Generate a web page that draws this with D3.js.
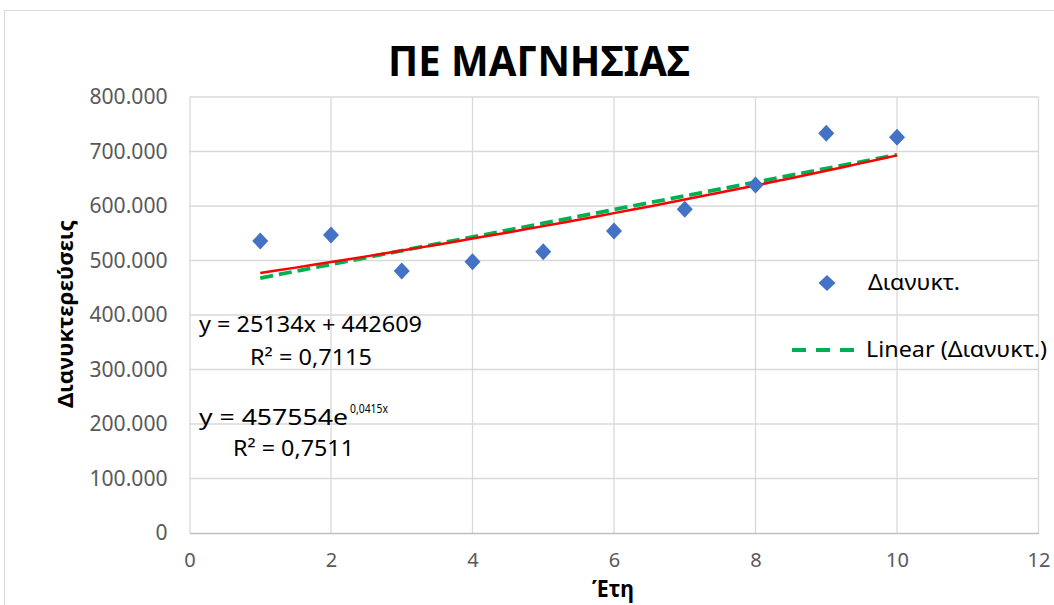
<!DOCTYPE html>
<html><head><meta charset="utf-8">
<script src="https://cdn.jsdelivr.net/npm/d3@7"></script>
<style>body{margin:0;background:#fff;} text{font-family:"Noto Sans","Open Sans",sans-serif;}</style>
</head><body>
<svg id="c" width="1054" height="605"></svg>
<script>
const years = [1,2,3,4,5,6,7,8,9,10];
const values = [535800,546800,480700,497800,516000,554000,593900,638500,733400,726000];
const xTicks = [0,2,4,6,8,10,12];
const yTicks = [0,100000,200000,300000,400000,500000,600000,700000,800000];
const linearCoef = [25134, 442609];
const expCoef = [457554, 0.0415];
const eqTexts = ["y = 25134x + 442609","R² = 0,7115","y = 457554e","0,0415x","R² = 0,7511"];

const svg = d3.select("#c");
svg.append("rect").attr("x",4.5).attr("y",10.5).attr("width",1060).attr("height",600)
  .attr("fill","#fff").attr("stroke","#d9d9d9");

const x = d3.scaleLinear().domain([0,12]).range([189.5,1038.5]);
const y = d3.scaleLinear().domain([0,800000]).range([533,97]);

// gridlines
svg.append("g").selectAll("line").data(yTicks.slice(1)).join("line")
  .attr("x1",x(0)).attr("x2",x(12)).attr("y1",d=>y(d)).attr("y2",d=>y(d))
  .attr("stroke","#d9d9d9").attr("stroke-width",1.3);
svg.append("g").selectAll("line").data(xTicks.slice(1)).join("line")
  .attr("x1",d=>x(d)).attr("x2",d=>x(d)).attr("y1",y(0)).attr("y2",y(800000))
  .attr("stroke","#d9d9d9").attr("stroke-width",1.3);

// axes
const fmt = d => d===0 ? "0" : d3.format(",")(d).replace(/,/g,".");
const ya = svg.append("g").attr("transform",`translate(${x(0)},0)`)
  .call(d3.axisLeft(y).tickValues(yTicks).tickFormat(fmt).tickSize(0).tickPadding(22));
ya.select(".domain").attr("stroke","#d9d9d9").attr("stroke-width",1.3);
ya.selectAll("text").attr("fill","#595959").style("font-size","21px")
  .attr("textLength",d=>d===0?null:78).attr("lengthAdjust","spacingAndGlyphs");
const xa = svg.append("g").attr("transform",`translate(0,${y(0)})`)
  .call(d3.axisBottom(x).tickValues(xTicks).tickSize(0).tickPadding(20));
xa.select(".domain").attr("stroke","#bfbfbf").attr("stroke-width",1.5);
xa.selectAll("text").attr("fill","#595959").style("font-size","20px");

// trendlines
const xs = d3.range(1,10.01,0.25);
const lin = d3.line().x(d=>x(d)).y(d=>y(linearCoef[0]*d+linearCoef[1]));
const ex = d3.line().x(d=>x(d)).y(d=>y(expCoef[0]*Math.exp(expCoef[1]*d)));
svg.append("path").attr("d",lin([1,10])).attr("fill","none").attr("stroke","#00B050")
  .attr("stroke-width",3.8).attr("stroke-dasharray","13,6");
svg.append("path").attr("d",ex(xs)).attr("fill","none").attr("stroke","#FF0000").attr("stroke-width",2.5);

// diamonds
const diamond = (w,h)=>`M0,${-h/2}L${w/2},0L0,${h/2}L${-w/2},0Z`;
svg.append("g").selectAll("path").data(years).join("path")
  .attr("d",diamond(16,17)).attr("fill","#4472C4")
  .attr("transform",(d,i)=>`translate(${x(d)},${y(values[i])})`);

// title
svg.append("text").attr("x",539).attr("y",76).attr("text-anchor","middle")
  .style("font-size","41px").style("font-weight","bold").attr("fill","#000")
  .attr("textLength",302).attr("lengthAdjust","spacingAndGlyphs").text("ΠΕ ΜΑΓΝΗΣΙΑΣ");

// axis titles
svg.append("text").attr("x",613).attr("y",597).attr("text-anchor","middle")
  .style("font-size","23px").style("font-weight","bold")
  .attr("textLength",42).attr("lengthAdjust","spacingAndGlyphs").text("Έτη");
svg.append("text").attr("transform","translate(73,314) rotate(-90)").attr("text-anchor","middle")
  .style("font-size","21px").style("font-weight","bold")
  .attr("textLength",188).attr("lengthAdjust","spacingAndGlyphs").text("Διανυκτερεύσεις");

// legend
svg.append("path").attr("d",diamond(17,16)).attr("fill","#4472C4").attr("transform","translate(827,283)");
svg.append("text").attr("x",868).attr("y",290).style("font-size","21px")
  .attr("textLength",92).attr("lengthAdjust","spacingAndGlyphs").text("Διανυκτ.");
svg.append("line").attr("x1",792).attr("x2",862).attr("y1",350).attr("y2",350)
  .attr("stroke","#00B050").attr("stroke-width",3.8).attr("stroke-dasharray","14,10");
svg.append("text").attr("x",866).attr("y",357).style("font-size","21px")
  .attr("textLength",181).attr("lengthAdjust","spacingAndGlyphs").text("Linear (Διανυκτ.)");

// equations
const eq = svg.append("g").style("font-size","21px").attr("fill","#000");
eq.append("text").attr("x",199).attr("y",332).attr("textLength",223).attr("lengthAdjust","spacingAndGlyphs").text(eqTexts[0]);
eq.append("text").attr("x",250).attr("y",365).attr("textLength",122).attr("lengthAdjust","spacingAndGlyphs").text(eqTexts[1]);
eq.append("text").attr("x",199).attr("y",425).attr("textLength",149).attr("lengthAdjust","spacingAndGlyphs").text(eqTexts[2]);
eq.append("text").attr("x",350).attr("y",413).style("font-size","13px").attr("textLength",38).attr("lengthAdjust","spacingAndGlyphs").text(eqTexts[3]);
eq.append("text").attr("x",233).attr("y",456).attr("textLength",121).attr("lengthAdjust","spacingAndGlyphs").text(eqTexts[4]);
</script>
</body></html>
